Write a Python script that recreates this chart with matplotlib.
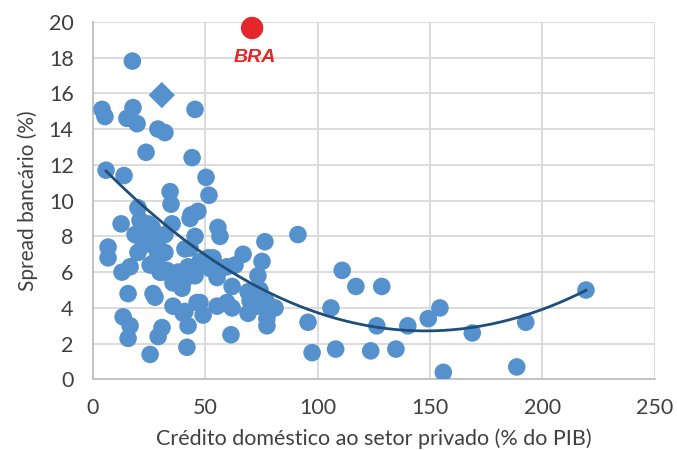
import numpy as np
import matplotlib
matplotlib.use("Agg")
import matplotlib.pyplot as plt

# Crédito doméstico ao setor privado (% do PIB) x spread bancário (%)
credito = [
    17.5, 4.0, 5.3, 17.8, 15.1, 19.6, 45.4, 28.9, 32.0, 23.6,
    44.1, 5.8, 13.8, 50.3, 34.3, 51.6, 34.7, 20.0, 43.6, 46.7,
    12.5, 20.9, 24.5, 35.2, 55.6, 56.5, 18.7, 25.4, 28.5, 45.4,
    76.5, 91.2, 6.7, 6.7, 20.0, 32.0, 40.9, 51.2, 54.3, 66.8,
    75.2, 63.2, 12.9, 16.5, 25.4, 30.7, 35.6, 40.9, 45.4, 55.6,
    73.4, 61.9, 69.0, 74.3, 15.6, 26.7, 27.6, 39.6, 35.6, 40.9,
    47.6, 49.0, 55.2, 61.9, 69.0, 73.4, 81.0, 95.7, 13.4, 16.5,
    15.6, 30.7, 29.0, 42.3, 77.4, 61.4, 41.8, 25.4, 97.5,
    26.3, 32.0, 22.3, 43.2, 53.4, 47.6, 26.7, 29.8, 37.8, 42.3,
    59.6, 28.5, 43.2, 28.5, 32.9, 40.1, 52.1, 55.2, 69.9, 77.4,
    59.6, 46.3, 40.1, 77.4,
    110.9, 117.0, 128.5, 105.9, 108.0, 126.3, 123.6, 134.8, 140.1, 149.2,
    154.4, 155.9, 168.8, 188.6, 192.6, 219.4,
]
spread = [
    17.8, 15.1, 14.7, 15.2, 14.6, 14.3, 15.1, 14.0, 13.8, 12.7,
    12.4, 11.7, 11.4, 11.3, 10.5, 10.3, 9.8, 9.6, 9.2, 9.4,
    8.7, 8.9, 8.7, 8.7, 8.5, 8.0, 8.1, 8.0, 7.6, 8.0,
    7.7, 8.1, 7.4, 6.8, 7.1, 7.1, 7.3, 6.8, 6.4, 7.0,
    6.6, 6.4, 6.0, 6.3, 6.4, 6.0, 5.4, 6.0, 5.8, 6.0,
    5.8, 5.2, 4.9, 5.0, 4.8, 4.8, 4.6, 5.1, 4.1, 3.8,
    4.3, 3.6, 4.1, 4.0, 3.7, 4.1, 4.0, 3.2, 3.5, 3.0,
    2.3, 2.9, 2.4, 3.0, 3.0, 2.5, 1.8, 1.4, 1.5,
    8.5, 8.1, 7.5, 9.0, 6.8, 6.6, 6.5, 6.0, 6.0, 6.3,
    6.3, 7.2, 7.35, 6.7, 6.1, 5.45, 6.2, 5.7, 4.4, 4.3,
    4.3, 4.3, 3.7, 3.4,
    6.1, 5.2, 5.2, 4.0, 1.7, 3.0, 1.6, 1.7, 3.0, 3.4,
    4.0, 0.4, 2.6, 0.7, 3.2, 5.0,
]

# ponto em destaque (losango)
destaque_x = [30.6]
destaque_y = [15.9]

# Brasil
bra_x = [70.8]
bra_y = [19.65]

# linha de tendência polinomial (grau 2), coeficientes
tend_coef = [0.000443, -0.131, 12.4]
tend_range = (5.8, 219.4)

blue = "#5591CC"
navy = "#1F4E79"
red = "#E5262A"
grey_text = "#404040"

plt.rcParams["font.family"] = ["Lato", "DejaVu Sans"]

fig = plt.figure(figsize=(6.77, 4.5), dpi=100)
ax = fig.add_axes([0.1374, 0.1567, 0.8297, 0.795])

ax.scatter(credito, spread, s=160, color=blue, edgecolors="none", zorder=3)
ax.scatter(destaque_x, destaque_y, s=180, marker="D", color=blue,
           edgecolors="none", zorder=3)

xt = np.linspace(tend_range[0], tend_range[1], 200)
ax.plot(xt, np.polyval(tend_coef, xt), color=navy, linewidth=2.0, zorder=4)

ax.scatter(bra_x, bra_y, s=260, color=red, edgecolors="none", zorder=5,
           clip_on=False)
ax.text(bra_x[0] + 1.3, bra_y[0] - 1.65, "BRA", color=red, fontsize=14,
        fontweight="bold", fontstyle="italic", ha="center", va="center",
        family=["Liberation Sans", "DejaVu Sans"])

ax.set_xlim(0, 250)
ax.set_ylim(0, 20)
ax.set_xticks(np.arange(0, 251, 50))
ax.set_yticks(np.arange(0, 21, 2))
ax.grid(True, color="#D9D9D9", linewidth=1.3, zorder=0)
ax.set_axisbelow(True)

for side in ["top", "right"]:
    ax.spines[side].set_visible(False)
for side in ["left", "bottom"]:
    ax.spines[side].set_color("#BFBFBF")
    ax.spines[side].set_linewidth(1.3)

ax.tick_params(length=0, labelsize=15.5, labelcolor=grey_text)
ax.tick_params(axis="y", pad=14)
ax.tick_params(axis="x", pad=13)

ax.set_xlabel("Crédito doméstico ao setor privado (% do PIB)", fontsize=15.5,
              color=grey_text, labelpad=8)
ax.set_ylabel("Spread bancário (%)", fontsize=15, color=grey_text, labelpad=8)

fig.savefig("out.png", dpi=100)
